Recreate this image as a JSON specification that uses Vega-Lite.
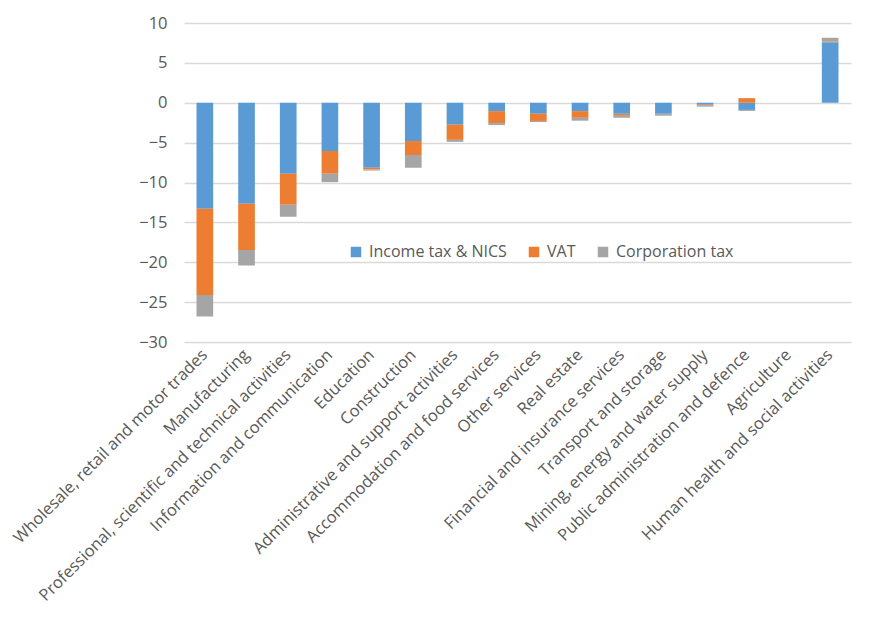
{
  "$schema": "https://vega.github.io/schema/vega-lite/v6.json",
  "autosize": "none",
  "padding": {"left": 184, "top": 23, "right": 21, "bottom": 276},
  "width": 667,
  "height": 319,
  "background": "white",
  "data": {
    "values": [
      {"sector": "Wholesale, retail and motor trades", "tax": "Income tax & NICS", "value": -13.3},
      {"sector": "Wholesale, retail and motor trades", "tax": "VAT", "value": -10.8},
      {"sector": "Wholesale, retail and motor trades", "tax": "Corporation tax", "value": -2.7},
      {"sector": "Manufacturing", "tax": "Income tax & NICS", "value": -12.65},
      {"sector": "Manufacturing", "tax": "VAT", "value": -5.8},
      {"sector": "Manufacturing", "tax": "Corporation tax", "value": -1.95},
      {"sector": "Professional, scientific and technical activities", "tax": "Income tax & NICS", "value": -8.9},
      {"sector": "Professional, scientific and technical activities", "tax": "VAT", "value": -3.9},
      {"sector": "Professional, scientific and technical activities", "tax": "Corporation tax", "value": -1.5},
      {"sector": "Information and communication", "tax": "Income tax & NICS", "value": -6.05},
      {"sector": "Information and communication", "tax": "VAT", "value": -2.85},
      {"sector": "Information and communication", "tax": "Corporation tax", "value": -1.05},
      {"sector": "Education", "tax": "Income tax & NICS", "value": -8.15},
      {"sector": "Education", "tax": "VAT", "value": -0.2},
      {"sector": "Education", "tax": "Corporation tax", "value": -0.15},
      {"sector": "Construction", "tax": "Income tax & NICS", "value": -4.8},
      {"sector": "Construction", "tax": "VAT", "value": -1.75},
      {"sector": "Construction", "tax": "Corporation tax", "value": -1.6},
      {"sector": "Administrative and support activities", "tax": "Income tax & NICS", "value": -2.75},
      {"sector": "Administrative and support activities", "tax": "VAT", "value": -1.9},
      {"sector": "Administrative and support activities", "tax": "Corporation tax", "value": -0.25},
      {"sector": "Accommodation and food services", "tax": "Income tax & NICS", "value": -1.05},
      {"sector": "Accommodation and food services", "tax": "VAT", "value": -1.5},
      {"sector": "Accommodation and food services", "tax": "Corporation tax", "value": -0.25},
      {"sector": "Other services", "tax": "Income tax & NICS", "value": -1.38},
      {"sector": "Other services", "tax": "VAT", "value": -0.9},
      {"sector": "Other services", "tax": "Corporation tax", "value": -0.14},
      {"sector": "Real estate", "tax": "Income tax & NICS", "value": -1.05},
      {"sector": "Real estate", "tax": "VAT", "value": -0.84},
      {"sector": "Real estate", "tax": "Corporation tax", "value": -0.36},
      {"sector": "Financial and insurance services", "tax": "Income tax & NICS", "value": -1.38},
      {"sector": "Financial and insurance services", "tax": "VAT", "value": -0.16},
      {"sector": "Financial and insurance services", "tax": "Corporation tax", "value": -0.34},
      {"sector": "Transport and storage", "tax": "Income tax & NICS", "value": -1.38},
      {"sector": "Transport and storage", "tax": "VAT", "value": 0},
      {"sector": "Transport and storage", "tax": "Corporation tax", "value": -0.24},
      {"sector": "Mining, energy and water supply", "tax": "Income tax & NICS", "value": -0.25},
      {"sector": "Mining, energy and water supply", "tax": "VAT", "value": -0.12},
      {"sector": "Mining, energy and water supply", "tax": "Corporation tax", "value": -0.12},
      {"sector": "Public administration and defence", "tax": "Income tax & NICS", "value": -0.9},
      {"sector": "Public administration and defence", "tax": "VAT", "value": 0.58},
      {"sector": "Public administration and defence", "tax": "Corporation tax", "value": -0.12},
      {"sector": "Agriculture", "tax": "Income tax & NICS", "value": 0},
      {"sector": "Agriculture", "tax": "VAT", "value": 0},
      {"sector": "Agriculture", "tax": "Corporation tax", "value": 0},
      {"sector": "Human health and social activities", "tax": "Income tax & NICS", "value": 7.6},
      {"sector": "Human health and social activities", "tax": "VAT", "value": 0.1},
      {"sector": "Human health and social activities", "tax": "Corporation tax", "value": 0.45}
    ]
  },
  "mark": {"type": "bar"},
  "encoding": {
    "x": {
      "field": "sector",
      "type": "nominal",
      "sort": null,
      "title": null,
      "scale": {"paddingInner": 0.6, "paddingOuter": 0.3},
      "axis": {
        "labelAngle": -45,
        "labelAlign": "right",
        "labelBaseline": "middle",
        "labelPadding": 10,
        "labelLimit": 400,
        "domain": false,
        "ticks": false,
        "grid": false
      }
    },
    "y": {
      "field": "value",
      "type": "quantitative",
      "title": null,
      "stack": "zero",
      "scale": {"domain": [-30, 10], "nice": false},
      "axis": {
        "values": [-30, -25, -20, -15, -10, -5, 0, 5, 10],
        "domain": false,
        "ticks": false,
        "labelPadding": 17,
        "gridColor": "#D9D9D9",
        "gridWidth": 1.3
      }
    },
    "color": {
      "field": "tax",
      "type": "nominal",
      "title": null,
      "scale": {
        "domain": ["Income tax & NICS", "VAT", "Corporation tax"],
        "range": ["#5B9BD5", "#ED7D31", "#A5A5A5"]
      },
      "legend": {
        "orient": "none",
        "direction": "horizontal",
        "legendX": 164,
        "legendY": 221,
        "symbolType": "square",
        "symbolSize": 110,
        "symbolStrokeWidth": 0,
        "labelOffset": 5,
        "columnPadding": 19,
        "labelFontSize": 16,
        "labelColor": "#595959",
        "labelFont": "Open Sans"
      }
    },
    "order": {"field": "order", "type": "quantitative"}
  },
  "transform": [
    {"lookup": "tax", "from": {"data": {"values": [
      {"tax": "Income tax & NICS", "order": 1},
      {"tax": "VAT", "order": 2},
      {"tax": "Corporation tax", "order": 3}
    ]}, "key": "tax", "fields": ["order"]}}
  ],
  "config": {
    "view": {"stroke": null},
    "axis": {
      "labelFont": "Open Sans",
      "labelFontSize": 16.5,
      "labelColor": "#595959"
    }
  }
}
